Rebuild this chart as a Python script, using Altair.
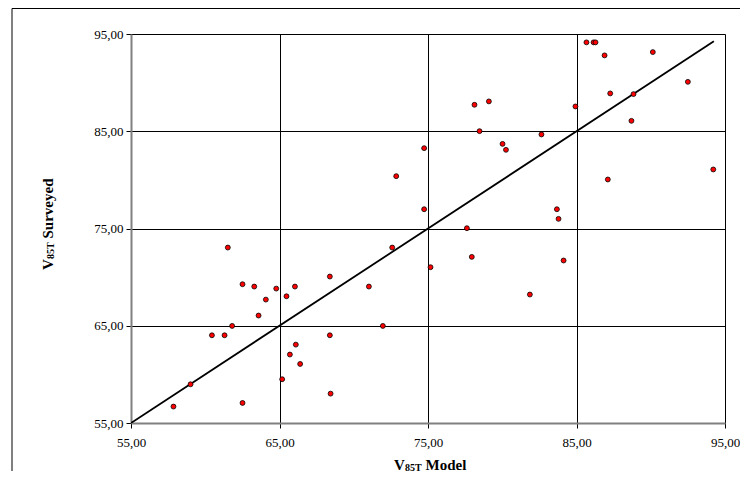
import altair as alt
import pandas as pd

# Data
model = [74.74, 72.86, 74.74, 85.67, 86.15, 86.28, 86.89, 90.14, 92.50, 87.27,
         88.84, 88.70, 78.13, 79.10, 84.93, 78.47, 82.64, 80.02, 80.25, 94.21,
         87.11, 83.68, 83.79, 77.62, 75.17, 77.95, 84.13, 81.86, 61.52, 72.59,
         68.39, 62.51, 63.30, 64.78, 66.04, 71.02, 65.47, 64.08, 63.59, 61.81,
         71.96, 60.45, 61.30, 68.39, 66.10, 65.70, 66.39, 59.01, 65.18, 68.44,
         57.86, 62.51]
surveyed = [83.26, 80.38, 76.98, 94.14, 94.14, 94.14, 92.80, 93.14, 90.08, 88.89,
            88.82, 86.07, 87.72, 88.07, 87.55, 85.01, 84.67, 83.70, 83.09, 81.07,
            80.04, 76.98, 75.99, 75.03, 71.02, 72.08, 71.71, 68.21, 73.04, 73.04,
            70.06, 69.27, 69.03, 68.82, 69.03, 69.03, 68.03, 67.69, 66.05, 64.98,
            64.98, 64.02, 64.02, 64.02, 63.06, 62.04, 61.07, 58.98, 59.50, 58.02,
            56.69, 57.06]
line_x = [55.0, 94.25]
line_y = [55.0, 94.25]
ticks = [55, 65, 75, 85, 95]

pts = pd.DataFrame({"model": model, "surveyed": surveyed})
ln = pd.DataFrame({"model": line_x, "surveyed": line_y})

W, H = 594, 389
FONT = "Liberation Serif"
label_expr = "replace(format(datum.value, '.2f'), '.', ',')"

xs = alt.Scale(domain=[55, 95], nice=False, zero=False)
ys = alt.Scale(domain=[55, 95], nice=False, zero=False)

common = dict(values=ticks, labelExpr=label_expr, title=None, grid=True,
              gridColor="#000000", gridWidth=1, gridOpacity=1,
              domainColor="#808080", domainWidth=2, tickColor="#000000",
              tickSize=5, labelFont=FONT, labelFontSize=13, labelColor="#000000",
              labelFlush=False, labelOverlap=False)
x_axis = alt.Axis(labelPadding=8, **common)
y_axis = alt.Axis(labelPadding=3, **common)

line = alt.Chart(ln).mark_line(color="#000000", strokeWidth=1.8, clip=True).encode(
    x=alt.X("model:Q", scale=xs, axis=x_axis),
    y=alt.Y("surveyed:Q", scale=ys, axis=y_axis),
)

points = alt.Chart(pts).mark_point(
    filled=True, shape="circle", size=24, fill="#FF0000", stroke="#000000",
    strokeWidth=0.8, opacity=1
).encode(
    x=alt.X("model:Q", scale=xs),
    y=alt.Y("surveyed:Q", scale=ys),
)

# Outer frame of the figure
frame = alt.Chart(pd.DataFrame({"a": [0]})).mark_rect(
    fill=None, fillOpacity=0, stroke="#000000", strokeWidth=1
).encode(x=alt.value(-119), x2=alt.value(650), y=alt.value(-25.5), y2=alt.value(480))

one = pd.DataFrame({"a": [0]})

def txt(text, x, y, size, angle=0):
    return alt.Chart(one).mark_text(
        text=text, font=FONT, fontSize=size, fontWeight="bold", color="#000000",
        align="left", baseline="alphabetic", angle=angle
    ).encode(x=alt.value(x), y=alt.value(y))

xt = (txt("V", 263, 435.5, 15) + txt("85T", 274, 436.5, 10) + txt("Model", 294.5, 435.5, 15))
yt = (txt("V", -78, 236, 15, 270) + txt("85T", -77, 225, 10, 270)
      + txt("Surveyed", -78, 204.5, 15, 270))

chart = alt.layer(frame, line, points, xt, yt).properties(
    width=W, height=H,
    autosize=alt.AutoSizeParams(type="none"),
    padding={"left": 123, "top": 26, "right": 15, "bottom": 48},
).configure_view(stroke="#808080", strokeWidth=2).configure(background="#ffffff")

chart.save("out.html", embed_options={"renderer": "svg", "actions": False})
